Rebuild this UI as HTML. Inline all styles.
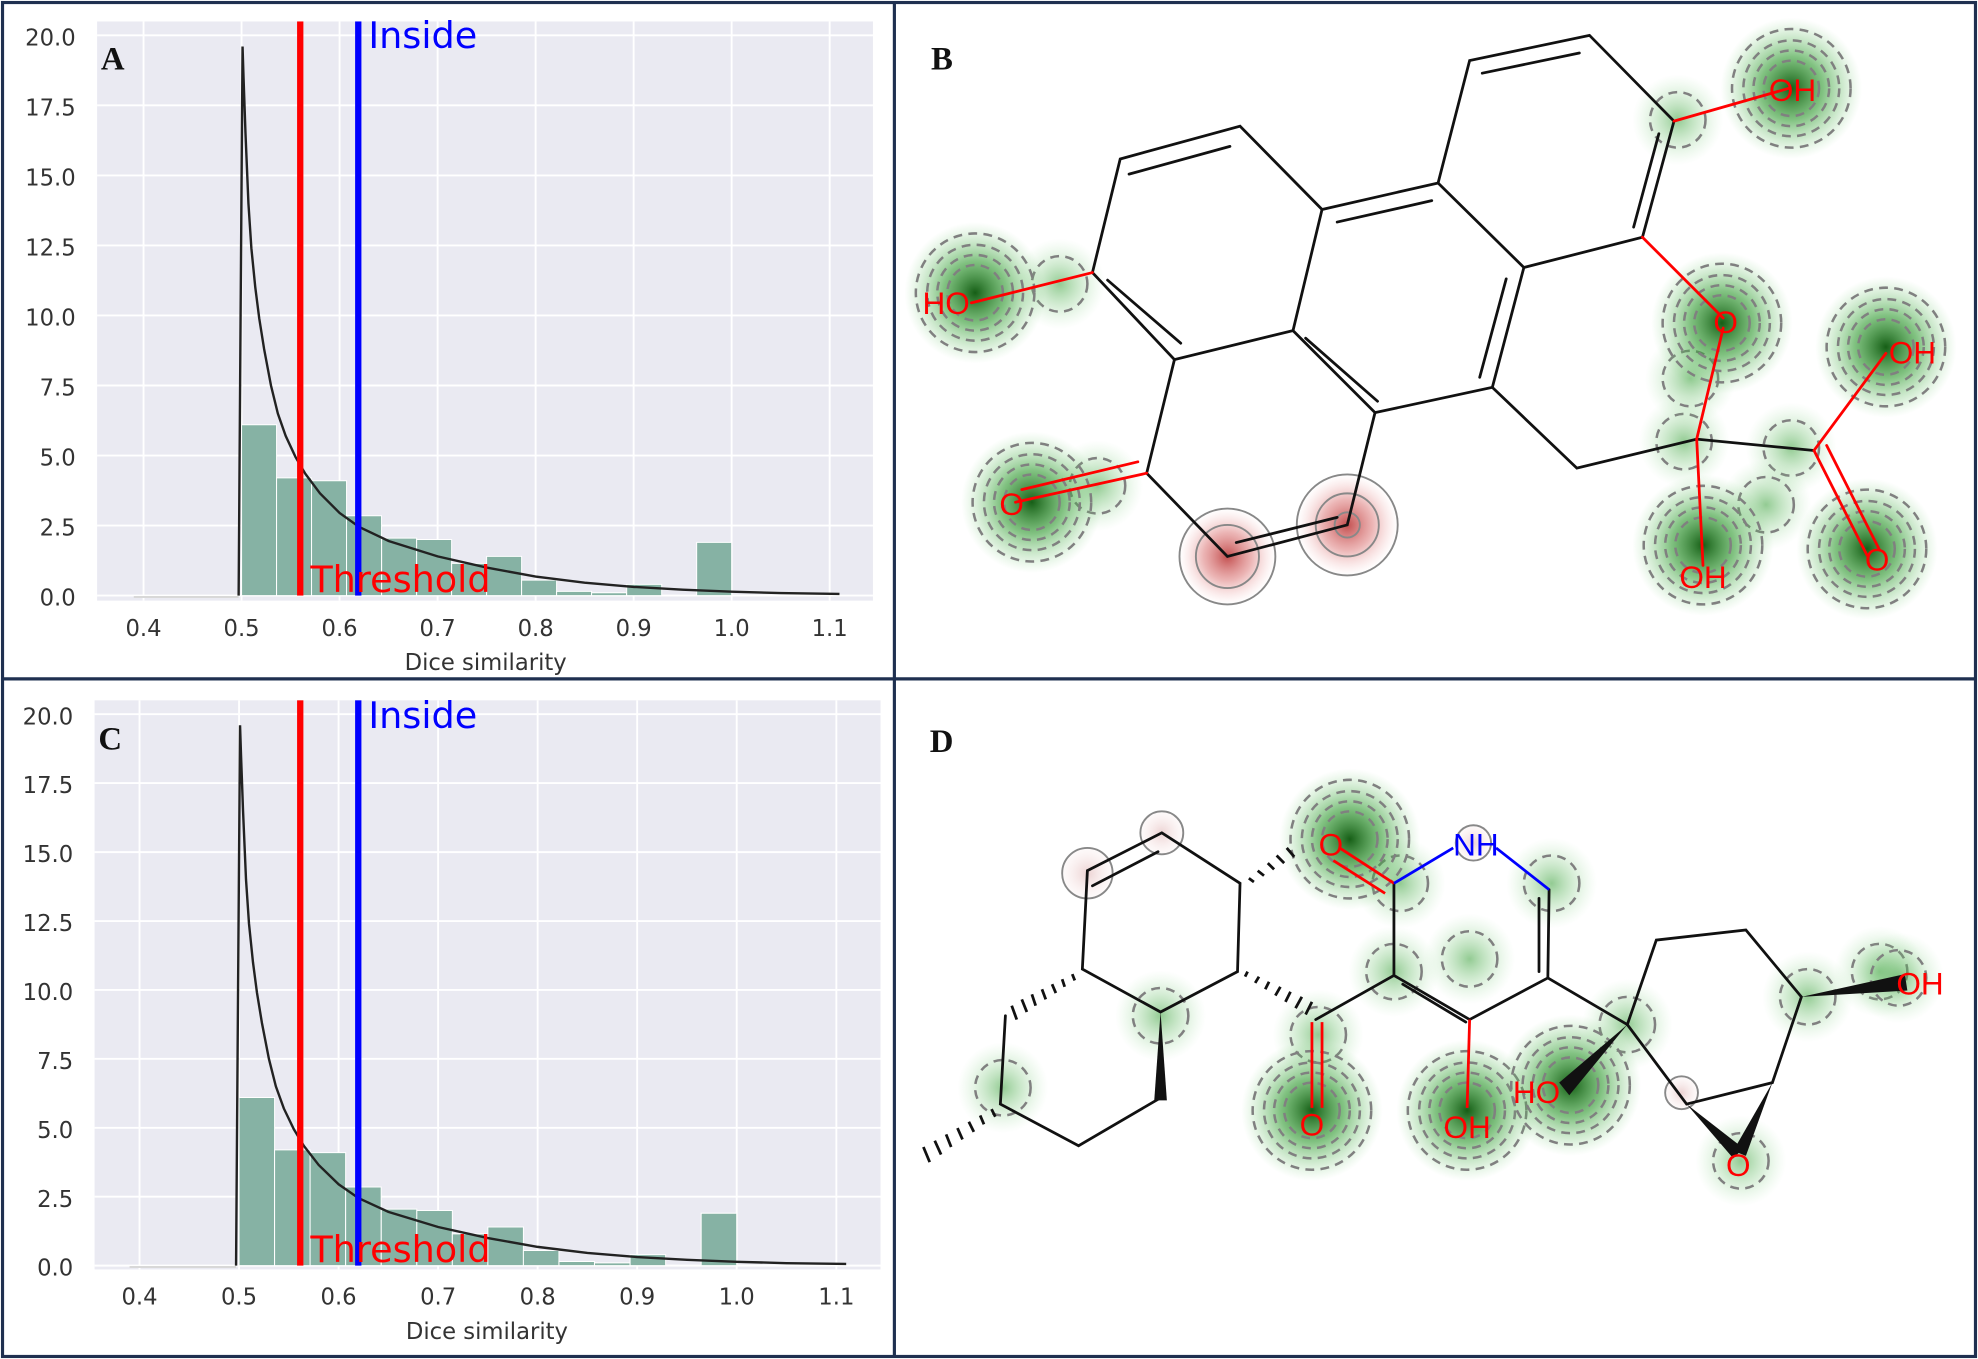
<!DOCTYPE html>
<html><head><meta charset="utf-8"><style>html,body{margin:0;padding:0;background:#fff}svg{display:block}</style></head>
<body>
<svg width="1978" height="1359" viewBox="0 0 1568 1077" preserveAspectRatio="none" xmlns="http://www.w3.org/2000/svg">
<defs>
<radialGradient id="gg"><stop offset="0" stop-color="#0a560a" stop-opacity="0.95"/><stop offset="0.45" stop-color="#2f9a2f" stop-opacity="0.6"/><stop offset="1" stop-color="#7fd07f" stop-opacity="0"/></radialGradient>
<radialGradient id="gs"><stop offset="0" stop-color="#3aa03a" stop-opacity="0.55"/><stop offset="1" stop-color="#9fe09f" stop-opacity="0"/></radialGradient>
<radialGradient id="rr"><stop offset="0" stop-color="#b83030" stop-opacity="0.85"/><stop offset="0.5" stop-color="#d86a6a" stop-opacity="0.5"/><stop offset="1" stop-color="#f0b0b0" stop-opacity="0"/></radialGradient>
<radialGradient id="rs"><stop offset="0" stop-color="#e8c8c8" stop-opacity="0.8"/><stop offset="1" stop-color="#f8e8e8" stop-opacity="0.2"/></radialGradient>
<g id="blob"><circle r="56" fill="url(#gg)"/><g fill="none" stroke="#808080" stroke-width="2" stroke-dasharray="7 5"><circle r="22"/><circle r="30"/><circle r="38"/><circle r="47"/></g></g>
<g id="sblob"><circle r="36" fill="url(#gs)"/><g fill="none" stroke="#808080" stroke-width="2" stroke-dasharray="7 5"><circle r="22"/></g></g>
</defs>
<rect width="1568" height="1077" fill="#fff"/>

<!-- ============ Panel A ============ -->
<rect x="77" y="17" width="615" height="459" fill="#eaeaf2"/>
<g stroke="#fff" stroke-width="1.5">
<line x1="77" x2="692" y1="472" y2="472"/><line x1="77" x2="692" y1="416.5" y2="416.5"/><line x1="77" x2="692" y1="361" y2="361"/><line x1="77" x2="692" y1="305.5" y2="305.5"/><line x1="77" x2="692" y1="250" y2="250"/><line x1="77" x2="692" y1="194.5" y2="194.5"/><line x1="77" x2="692" y1="139" y2="139"/><line x1="77" x2="692" y1="83.5" y2="83.5"/><line x1="77" x2="692" y1="28" y2="28"/>
<line y1="17" y2="476" x1="113.8" x2="113.8"/><line y1="17" y2="476" x1="191.5" x2="191.5"/><line y1="17" y2="476" x1="269.2" x2="269.2"/><line y1="17" y2="476" x1="346.9" x2="346.9"/><line y1="17" y2="476" x1="424.6" x2="424.6"/><line y1="17" y2="476" x1="502.3" x2="502.3"/><line y1="17" y2="476" x1="580" x2="580"/><line y1="17" y2="476" x1="657.7" x2="657.7"/>
</g>
<g transform="matrix(777 0 0 -22.2 -197 472)">
<g fill="#86b2a4" stroke="#fff" stroke-width="1">
<rect x="0.5" y="0" width="0.0357" height="6.1" vector-effect="non-scaling-stroke"/>
<rect x="0.5357" y="0" width="0.0357" height="4.2" vector-effect="non-scaling-stroke"/>
<rect x="0.5714" y="0" width="0.0357" height="4.1" vector-effect="non-scaling-stroke"/>
<rect x="0.6071" y="0" width="0.0357" height="2.85" vector-effect="non-scaling-stroke"/>
<rect x="0.6429" y="0" width="0.0357" height="2.05" vector-effect="non-scaling-stroke"/>
<rect x="0.6786" y="0" width="0.0357" height="2.0" vector-effect="non-scaling-stroke"/>
<rect x="0.7143" y="0" width="0.0357" height="1.15" vector-effect="non-scaling-stroke"/>
<rect x="0.75" y="0" width="0.0357" height="1.4" vector-effect="non-scaling-stroke"/>
<rect x="0.7857" y="0" width="0.0357" height="0.55" vector-effect="non-scaling-stroke"/>
<rect x="0.8214" y="0" width="0.0357" height="0.15" vector-effect="non-scaling-stroke"/>
<rect x="0.8571" y="0" width="0.0357" height="0.1" vector-effect="non-scaling-stroke"/>
<rect x="0.8929" y="0" width="0.0357" height="0.4" vector-effect="non-scaling-stroke"/>
<rect x="0.9643" y="0" width="0.0357" height="1.9" vector-effect="non-scaling-stroke"/>
</g>
<line x1="0.39" y1="-0.05" x2="0.497" y2="-0.05" stroke="#d8d8d8" stroke-width="2" vector-effect="non-scaling-stroke"/>
<polyline fill="none" stroke="#222" stroke-width="2.4" vector-effect="non-scaling-stroke" points="0.497,0 0.499,10 0.501,19.6 0.502,18.5 0.504,16.5 0.507,14 0.51,12.4 0.514,11 0.518,9.9 0.523,8.8 0.53,7.5 0.537,6.5 0.545,5.7 0.555,4.95 0.565,4.35 0.58,3.65 0.6,2.95 0.62,2.45 0.65,1.95 0.7,1.4 0.75,1.0 0.8,0.68 0.85,0.46 0.9,0.31 0.95,0.21 1.0,0.14 1.05,0.09 1.11,0.06"/>
</g>
<rect x="235.5" y="17" width="5" height="455" fill="#ff0000"/>
<rect x="281.5" y="17" width="5" height="455" fill="#0000ff"/>
<text x="292" y="38" font-family="DejaVu Sans, sans-serif" font-size="29" fill="#0000ff">Inside</text>
<text x="246" y="469" font-family="DejaVu Sans, sans-serif" font-size="29" fill="#ff0000">Threshold</text>
<text x="80" y="55" font-family="Liberation Serif, serif" font-weight="bold" font-size="26" fill="#111">A</text>
<g font-family="DejaVu Sans, sans-serif" font-size="18" fill="#333" text-anchor="end">
<text x="60" y="480">0.0</text><text x="60" y="424.5">2.5</text><text x="60" y="369">5.0</text><text x="60" y="313.5">7.5</text><text x="60" y="258">10.0</text><text x="60" y="202.5">12.5</text><text x="60" y="147">15.0</text><text x="60" y="91.5">17.5</text><text x="60" y="36">20.0</text>
</g>
<g font-family="DejaVu Sans, sans-serif" font-size="18" fill="#333" text-anchor="middle">
<text x="113.8" y="504">0.4</text><text x="191.5" y="504">0.5</text><text x="269.2" y="504">0.6</text><text x="346.9" y="504">0.7</text><text x="424.6" y="504">0.8</text><text x="502.3" y="504">0.9</text><text x="580" y="504">1.0</text><text x="657.7" y="504">1.1</text>
<text x="385" y="531">Dice similarity</text>
</g>

<!-- ============ Panel C ============ -->
<rect x="75" y="555" width="623" height="451" fill="#eaeaf2"/>
<g stroke="#fff" stroke-width="1.5">
<line x1="75" x2="698" y1="1003" y2="1003"/><line x1="75" x2="698" y1="948.4" y2="948.4"/><line x1="75" x2="698" y1="893.8" y2="893.8"/><line x1="75" x2="698" y1="839.1" y2="839.1"/><line x1="75" x2="698" y1="784.5" y2="784.5"/><line x1="75" x2="698" y1="729.9" y2="729.9"/><line x1="75" x2="698" y1="675.3" y2="675.3"/><line x1="75" x2="698" y1="620.6" y2="620.6"/><line x1="75" x2="698" y1="566" y2="566"/>
<line y1="555" y2="1006" x1="110.6" x2="110.6"/><line y1="555" y2="1006" x1="189.5" x2="189.5"/><line y1="555" y2="1006" x1="268.4" x2="268.4"/><line y1="555" y2="1006" x1="347.3" x2="347.3"/><line y1="555" y2="1006" x1="426.2" x2="426.2"/><line y1="555" y2="1006" x1="505.1" x2="505.1"/><line y1="555" y2="1006" x1="584" x2="584"/><line y1="555" y2="1006" x1="663" x2="663"/>
</g>
<g transform="matrix(789 0 0 -21.85 -205 1003)">
<g fill="#86b2a4" stroke="#fff" stroke-width="1">
<rect x="0.5" y="0" width="0.0357" height="6.1" vector-effect="non-scaling-stroke"/>
<rect x="0.5357" y="0" width="0.0357" height="4.2" vector-effect="non-scaling-stroke"/>
<rect x="0.5714" y="0" width="0.0357" height="4.1" vector-effect="non-scaling-stroke"/>
<rect x="0.6071" y="0" width="0.0357" height="2.85" vector-effect="non-scaling-stroke"/>
<rect x="0.6429" y="0" width="0.0357" height="2.05" vector-effect="non-scaling-stroke"/>
<rect x="0.6786" y="0" width="0.0357" height="2.0" vector-effect="non-scaling-stroke"/>
<rect x="0.7143" y="0" width="0.0357" height="1.15" vector-effect="non-scaling-stroke"/>
<rect x="0.75" y="0" width="0.0357" height="1.4" vector-effect="non-scaling-stroke"/>
<rect x="0.7857" y="0" width="0.0357" height="0.55" vector-effect="non-scaling-stroke"/>
<rect x="0.8214" y="0" width="0.0357" height="0.15" vector-effect="non-scaling-stroke"/>
<rect x="0.8571" y="0" width="0.0357" height="0.1" vector-effect="non-scaling-stroke"/>
<rect x="0.8929" y="0" width="0.0357" height="0.4" vector-effect="non-scaling-stroke"/>
<rect x="0.9643" y="0" width="0.0357" height="1.9" vector-effect="non-scaling-stroke"/>
</g>
<line x1="0.39" y1="-0.05" x2="0.497" y2="-0.05" stroke="#d8d8d8" stroke-width="2" vector-effect="non-scaling-stroke"/>
<polyline fill="none" stroke="#222" stroke-width="2.4" vector-effect="non-scaling-stroke" points="0.497,0 0.499,10 0.501,19.6 0.502,18.5 0.504,16.5 0.507,14 0.51,12.4 0.514,11 0.518,9.9 0.523,8.8 0.53,7.5 0.537,6.5 0.545,5.7 0.555,4.95 0.565,4.35 0.58,3.65 0.6,2.95 0.62,2.45 0.65,1.95 0.7,1.4 0.75,1.0 0.8,0.68 0.85,0.46 0.9,0.31 0.95,0.21 1.0,0.14 1.05,0.09 1.11,0.06"/>
</g>
<rect x="235.5" y="555" width="5" height="448" fill="#ff0000"/>
<rect x="281.5" y="555" width="5" height="448" fill="#0000ff"/>
<text x="292" y="577" font-family="DejaVu Sans, sans-serif" font-size="29" fill="#0000ff">Inside</text>
<text x="246" y="1000" font-family="DejaVu Sans, sans-serif" font-size="29" fill="#ff0000">Threshold</text>
<text x="78" y="594" font-family="Liberation Serif, serif" font-weight="bold" font-size="26" fill="#111">C</text>
<g font-family="DejaVu Sans, sans-serif" font-size="18" fill="#333" text-anchor="end">
<text x="58" y="1011">0.0</text><text x="58" y="956.4">2.5</text><text x="58" y="901.8">5.0</text><text x="58" y="847.1">7.5</text><text x="58" y="792.5">10.0</text><text x="58" y="737.9">12.5</text><text x="58" y="683.3">15.0</text><text x="58" y="628.6">17.5</text><text x="58" y="574">20.0</text>
</g>
<g font-family="DejaVu Sans, sans-serif" font-size="18" fill="#333" text-anchor="middle">
<text x="110.6" y="1034">0.4</text><text x="189.5" y="1034">0.5</text><text x="268.4" y="1034">0.6</text><text x="347.3" y="1034">0.7</text><text x="426.2" y="1034">0.8</text><text x="505.1" y="1034">0.9</text><text x="584" y="1034">1.0</text><text x="663" y="1034">1.1</text>
<text x="386" y="1061">Dice similarity</text>
</g>

<!-- ============ Panel B ============ -->
<use href="#sblob" x="1335" y="350"/><use href="#sblob" x="1420" y="355"/><use href="#sblob" x="1330" y="95"/><use href="#sblob" x="1340" y="300"/><use href="#sblob" x="1400" y="400"/><use href="#sblob" x="840" y="225"/><use href="#sblob" x="870" y="385"/>
<use href="#blob" x="773" y="232"/><use href="#blob" x="818" y="398"/><use href="#blob" x="1420" y="70"/>
<use href="#blob" x="1365" y="256"/><use href="#blob" x="1495" y="275"/><use href="#blob" x="1350" y="432"/><use href="#blob" x="1480" y="435"/>
<g fill="url(#rr)" stroke="#888" stroke-width="1.5"><circle cx="973" cy="441" r="38"/><circle cx="1068" cy="416" r="40"/></g>
<g fill="none" stroke="#888" stroke-width="1.5"><circle cx="973" cy="441" r="25"/><circle cx="1068" cy="416" r="25"/><circle cx="1068" cy="416" r="10"/></g>
<g stroke="#111" stroke-width="2.2" fill="none" stroke-linecap="round">
<path d="M888,126 L983,100 L1048,166 L1025,262 L931,285 L866,216 Z"/>
<path d="M1048,166 L1140,145 L1208,212 L1183,307 L1090,327 L1025,262"/>
<path d="M1140,145 L1165,48 L1260,28 L1327,96 L1302,188 L1208,212"/>
<path d="M931,285 L909,375 L973,441 L1068,416 L1090,327"/>
<path d="M1183,307 L1250,371 L1345,348 L1438,357"/>
<path d="M895,138 L975,116 M878,222 L936,272 M1060,176 L1135,159 M1035,268 L1092,318 M1194,221 L1173,299 M1175,58 L1252,42 M1315,106 L1295,180 M980,430 L1060,410"/>
</g>
<g stroke="#f00" stroke-width="2.2" stroke-linecap="round">
<line x1="866" y1="216" x2="770" y2="240"/><line x1="1327" y1="96" x2="1418" y2="70"/>
<line x1="1302" y1="188" x2="1366" y2="252"/><line x1="1366" y1="260" x2="1345" y2="348"/>
<line x1="909" y1="375" x2="805" y2="398"/><line x1="902" y1="366" x2="810" y2="388"/>
<line x1="1345" y1="348" x2="1350" y2="448"/><line x1="1438" y1="357" x2="1495" y2="280"/>
<line x1="1438" y1="357" x2="1480" y2="440"/><line x1="1448" y1="353" x2="1490" y2="436"/>
</g>
<g font-family="Liberation Sans, sans-serif" font-size="25" fill="#f00" text-anchor="middle">
<text x="750" y="249">HO</text><text x="1421" y="80">OH</text><text x="1368" y="264">O</text><text x="1516" y="288">OH</text>
<text x="802" y="408">O</text><text x="1350" y="466">OH</text><text x="1488" y="452">O</text>
</g>
<text x="738" y="55" font-family="Liberation Serif, serif" font-weight="bold" font-size="26" fill="#111">B</text>

<!-- ============ Panel D ============ -->
<use href="#sblob" x="1230" y="700"/><use href="#sblob" x="1105" y="770"/><use href="#sblob" x="1290" y="812"/><use href="#sblob" x="1380" y="920"/><use href="#sblob" x="1045" y="820"/><use href="#sblob" x="1433" y="790"/><use href="#sblob" x="920" y="805"/><use href="#sblob" x="795" y="862"/><use href="#sblob" x="1110" y="700"/><use href="#sblob" x="1165" y="760"/><use href="#sblob" x="1490" y="770"/>
<use href="#blob" x="1070" y="665"/>
<use href="#blob" x="1040" y="880"/><use href="#blob" x="1163" y="880"/><use href="#blob" x="1245" y="860"/><use href="#sblob" x="1505" y="775"/>
<g fill="url(#rs)" stroke="#888" stroke-width="1.5"><circle cx="862" cy="692" r="20"/><circle cx="921" cy="660" r="17"/><circle cx="1168" cy="668" r="14"/><circle cx="1333" cy="866" r="13"/></g>
<g stroke="#111" stroke-width="2.2" fill="none" stroke-linecap="round">
<path d="M862,690 L921,660 L983,700 L981,770 L920,802 L858,768 Z"/>
<path d="M866,702 L918,675"/>
<path d="M920,870 L855,908 L793,875 L797,805"/>
<path d="M1105,700 L1105,773 L1165,808 L1227,775 L1228,705"/>
<path d="M1112,780 L1162,810 M1220,712 L1220,770"/>
<path d="M1105,773 L1043,808 M1227,775 L1290,812"/>
<path d="M1290,812 L1313,745 L1384,737 L1428,790 L1405,858 L1337,875 Z"/>
</g>
<g stroke="#111" stroke-width="2.2">
<path d="M990,696 l4,3 M997,690 l5,4 M1005,684 l5,5 M1012,678 l6,6 M1020,672 l6,7"/>
<path d="M987,774 l2,-4 M995,779 l3,-5 M1003,784 l3,-6 M1011,789 l4,-7 M1019,794 l4,-8 M1027,799 l5,-9 M1035,804 l5,-10"/>
<path d="M850,772 l2,5 M842,776 l2,6 M834,780 l3,7 M826,784 l3,8 M818,788 l3,9 M810,792 l4,10 M802,797 l4,11"/>
<path d="M786,879 l3,6 M777,884 l3,7 M768,889 l4,8 M759,894 l4,9 M750,899 l4,10 M741,904 l5,11 M732,909 l5,12"/>
</g>
<g fill="#111"><polygon points="920,802 915,872 925,872"/><polygon points="1290,812 1236,858 1244,868"/><polygon points="1337,875 1374,918 1382,910"/><polygon points="1405,858 1374,912 1384,916"/><polygon points="1428,790 1510,772 1512,785"/></g>
<g stroke="#f00" stroke-width="2.2"><line x1="1105" y1="700" x2="1062" y2="672"/><line x1="1098" y1="708" x2="1057" y2="682"/><line x1="1040" y1="810" x2="1040" y2="878"/><line x1="1048" y1="810" x2="1048" y2="878"/><line x1="1165" y1="808" x2="1163" y2="878"/></g>
<g stroke="#00f" stroke-width="2.2"><line x1="1105" y1="700" x2="1152" y2="672"/><line x1="1186" y1="672" x2="1228" y2="705"/></g>
<g font-family="Liberation Sans, sans-serif" font-size="25" fill="#f00" text-anchor="middle">
<text x="1055" y="678">O</text><text x="1040" y="900">O</text><text x="1163" y="902">OH</text><text x="1218" y="874">HO</text><text x="1378" y="932">O</text><text x="1522" y="788">OH</text>
</g>
<text x="1170" y="678" font-family="Liberation Sans, sans-serif" font-size="25" fill="#00f" text-anchor="middle">NH</text>
<text x="737" y="596" font-family="Liberation Serif, serif" font-weight="bold" font-size="26" fill="#111">D</text>

<!-- borders -->
<g fill="none" stroke="#1f3050" stroke-width="2.5"><rect x="2" y="2" width="1564" height="1073"/><line x1="709" y1="2" x2="709" y2="1075"/><line x1="2" y1="538" x2="1566" y2="538"/></g>
</svg>
</body></html>
